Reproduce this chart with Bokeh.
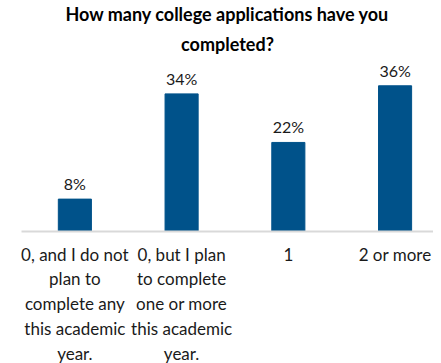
from bokeh.plotting import figure
from bokeh.models import Range1d, FixedTicker, Title, ColumnDataSource
from bokeh.core.properties import value
from bokeh.embed import file_html
from bokeh.resources import INLINE

categories = [
    "0, and I do not\nplan to\ncomplete any\nthis academic\nyear.",
    "0, but I plan\nto complete\none or more\nthis academic\nyear.",
    "1",
    "2 or more",
]
values = [8, 34, 22, 36]
labels = ["8%", "34%", "22%", "36%"]

xs = list(range(len(categories)))
src = ColumnDataSource(dict(x=xs, top=values, label=labels))

FONT = "Lato"
BLUE = "#00528a"

p = figure(frame_width=412, frame_height=170, output_backend="svg", toolbar_location=None,
           x_range=Range1d(-0.5, 3.36), y_range=Range1d(0, 42),
           min_border_left=21, min_border_right=0, min_border_top=7, min_border_bottom=0)
p.title = None
p.add_layout(Title(text="completed?", align="center", text_font=FONT,
                   text_font_size="18px", text_font_style="bold", text_color="#000000",
                   standoff=13), "above")
p.add_layout(Title(text="How many college applications have you", align="center",
                   text_font=FONT, text_font_size="18px", text_font_style="bold",
                   text_color="#000000", standoff=0), "above")

p.vbar(x="x", top="top", width=0.31, bottom=0, source=src, color=BLUE, line_color=BLUE)
p.text(x="x", y="top", text="label", source=src, text_align="center",
       text_baseline="bottom", y_offset=-6, text_font=value(FONT),
       text_font_size="16px", text_color="#1a1a1a")

p.outline_line_color = None
p.xgrid.visible = False
p.ygrid.visible = False
p.yaxis.visible = False
p.background_fill_color = "white"
p.border_fill_color = "white"

ax = p.xaxis[0]
ax.ticker = FixedTicker(ticks=xs)
ax.major_label_overrides = {i: c for i, c in zip(xs, categories)}
ax.major_tick_line_color = None
ax.minor_tick_line_color = None
ax.axis_line_color = "#d9d9d9"
ax.axis_line_width = 2
ax.major_label_text_font = FONT
ax.major_label_text_font_size = "17px"
ax.major_label_text_color = "#1a1a1a"
ax.major_label_text_line_height = 1.18
ax.major_label_standoff = 6

open("out.html", "w").write(file_html(p, INLINE))
